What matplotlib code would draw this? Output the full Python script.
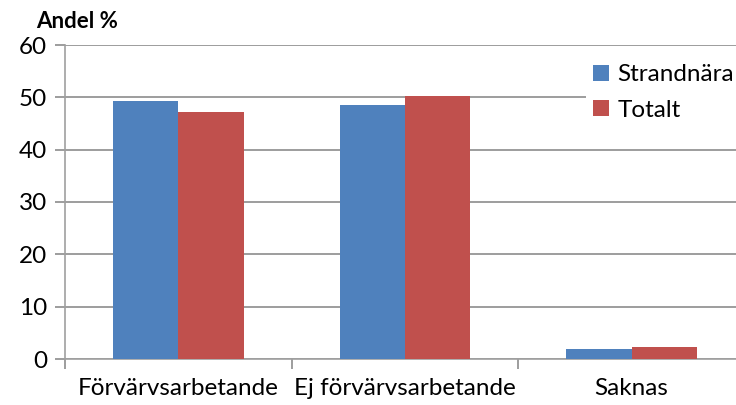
import matplotlib
matplotlib.use("Agg")
import matplotlib.pyplot as plt
import numpy as np

categories = ["Förvärvsarbetande", "Ej förvärvsarbetande", "Saknas"]
strandnara = [49.3, 48.5, 1.9]
totalt = [47.2, 50.3, 2.3]
series_names = ["Strandnära", "Totalt"]
yticks = [0, 10, 20, 30, 40, 50, 60]

plt.rcParams['font.family'] = ['Lato', 'DejaVu Sans']

W, H = 736, 405
fig = plt.figure(figsize=(W / 100, H / 100), dpi=100)
left, right = 65, 745
bottom, top = 359, 45
ax = fig.add_axes([left / W, (H - bottom) / H, (right - left) / W, (bottom - top) / H])

x = np.arange(len(categories))
bw = 0.288
blue = "#4F81BD"
red = "#C0504D"
ax.bar(x - bw / 2, strandnara, bw, color=blue, label=series_names[0], zorder=3)
ax.bar(x + bw / 2, totalt, bw, color=red, label=series_names[1], zorder=3)

ax.set_xlim(-0.5, 2.5)
ax.set_ylim(0, 60)
ax.set_yticks(yticks)
ax.yaxis.grid(True, color="#8C8C8C", linewidth=1.2, zorder=0)
ax.set_axisbelow(True)

for s in ["top", "right"]:
    ax.spines[s].set_visible(False)
ax.spines["left"].set_color("#A0A0A0")
ax.spines["bottom"].set_color("#A0A0A0")
ax.spines["left"].set_linewidth(1.2)
ax.spines["bottom"].set_linewidth(1.2)

fs = 17.5
ax.tick_params(axis="y", length=7, color="#8C8C8C", width=1.2, labelsize=fs, pad=6, labelcolor="black")
ax.set_xticks([-0.5, 0.5, 1.5, 2.5])
ax.set_xticklabels([])
ax.set_xticks(x, minor=True)
ax.set_xticklabels(categories, minor=True, fontsize=fs)
ax.tick_params(axis="x", which="major", length=7, color="#8C8C8C", width=1.2)
ax.tick_params(axis="x", which="minor", length=0, pad=14)

fig.text(36 / W, 1 - 21 / H, "Andel %", fontsize=16, fontweight="bold", va="center", ha="left")

leg = ax.legend(loc="upper left", bbox_to_anchor=(586 / W, 1 - 57 / H), bbox_transform=fig.transFigure,
                frameon=True, fontsize=fs, handlelength=0.65, handleheight=0.65,
                handletextpad=0.35, labelspacing=0.6, borderpad=0.3, borderaxespad=0)
leg.get_frame().set_edgecolor("none")
leg.get_frame().set_facecolor("white")
leg.get_frame().set_alpha(1)
leg.get_frame().set_boxstyle("square", pad=0)
leg.set_zorder(5)

fig.savefig("out.png", dpi=100)
